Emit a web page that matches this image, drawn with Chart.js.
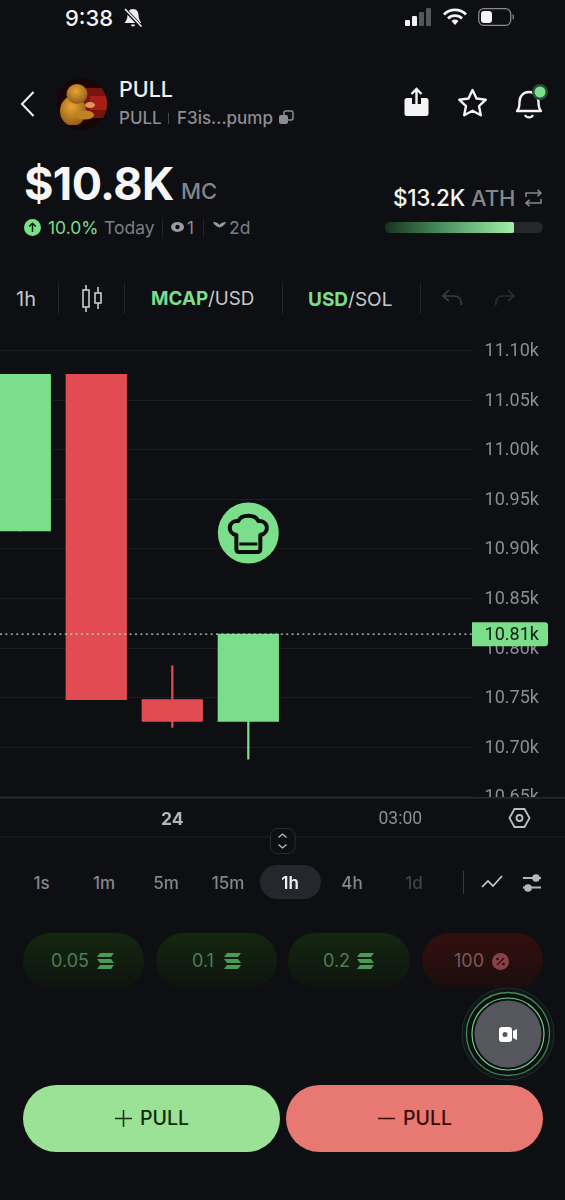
<!DOCTYPE html>
<html><head><meta charset="utf-8">
<script src="https://cdn.jsdelivr.net/npm/chart.js@4"></script>
<style>
html,body{margin:0;padding:0;background:#0e0f13;width:565px;height:1200px;overflow:hidden;font-family:Inter,sans-serif}
#app{position:relative;width:565px;height:1200px;overflow:hidden}
.t{position:absolute;white-space:nowrap;line-height:1;transform:translateY(-50%)}
.c{transform:translate(-50%,-50%)}
svg{position:absolute;overflow:visible}
.sep{position:absolute;width:1px;background:#24252a}
.chip{position:absolute;top:933px;height:55px;border-radius:28px;background:linear-gradient(#14270f,#0e140f)}
#chartBox{position:absolute;left:0;top:340px;width:565px;height:500px}
</style></head><body><div id="app">

<div class="t" style="left:65px;top:18px;font-size:22px;font-weight:500;color:#f4f4f4">9:38</div>
<svg style="left:123px;top:8px" width="20" height="20" viewBox="0 0 20 20"><path d="M10 1c-4 0-5.500 3-5.500 6.500C4.500 11 3 13 1.500 15h17c-1.500-2-3-4-3-7.500C15.500 4 14 1 10 1zM8 16.500h4a2 2 0 0 1-4 0z" fill="#eee"/><path d="M2 1.500 18.500 19" stroke="#0e0f13" stroke-width="3.600"/><path d="M2 1 18.500 18.500" stroke="#eee" stroke-width="1.600"/></svg>
<svg style="left:405px;top:8px" width="28" height="20"><rect x="0" y="12" width="5" height="6" rx="1" fill="#f2f2f2"/><rect x="7" y="8" width="5" height="10" rx="1" fill="#f2f2f2"/><rect x="14" y="4" width="5" height="14" rx="1" fill="#55565a"/><rect x="21" y="0" width="5" height="18" rx="1" fill="#55565a"/></svg>
<svg style="left:443px;top:8px" width="24" height="18" viewBox="0 0 24 18"><path d="M1 6.500a15.500 15.500 0 0 1 22 0M5 10.500a10 10 0 0 1 14 0" fill="none" stroke="#f4f4f4" stroke-width="2.800"/><path d="M8.500 13a5 5 0 0 1 7 0L12 17z" fill="#f4f4f4"/></svg>
<svg style="left:478px;top:8px" width="38" height="20"><rect x=".7" y=".7" width="32" height="16.600" rx="5" fill="none" stroke="#8a8a8c" stroke-width="1.300"/><rect x="3" y="3" width="11" height="12" rx="3" fill="#f4f4f4"/><rect x="34.500" y="6.500" width="1.500" height="5" rx=".7" fill="#77777a"/></svg>

<svg style="left:20px;top:90px" width="16" height="28"><path d="M13.500 2 2 14l11.500 12" fill="none" stroke="#f2f2f2" stroke-width="2"/></svg>
<svg style="left:57px;top:78px" width="50" height="52" viewBox="0 0 50 52"><defs><clipPath id="av"><ellipse cx="25" cy="26" rx="25" ry="26"/></clipPath><radialGradient id="duck" cx=".45" cy=".35" r=".7"><stop offset="0" stop-color="#e8a535"/><stop offset="1" stop-color="#8a5714"/></radialGradient></defs><g clip-path="url(#av)"><rect width="50" height="52" fill="#1a0504"/><rect x="22" y="10" width="28" height="30" fill="#7a140e"/><rect x="33" y="18" width="17" height="14" fill="#a51f14"/><ellipse cx="16" cy="33" rx="13" ry="15" fill="url(#duck)"/><ellipse cx="20" cy="16" rx="10.500" ry="10" fill="url(#duck)"/><ellipse cx="33" cy="27" rx="5" ry="3" fill="#d99a5a"/><ellipse cx="28" cy="37" rx="9" ry="4.500" fill="#c08222"/><rect x="0" y="47" width="50" height="5" fill="#140604"/></g></svg>
<div class="t" style="left:119px;top:90px;font-size:21.500px;font-weight:500;color:#f2f2f2">PULL</div>
<div class="t" style="left:119px;top:118px;font-size:17px;font-weight:500;color:#8c8d93">PULL</div>
<div class="sep" style="left:168px;top:113px;height:11px;background:#45464b"></div>
<div class="t" style="left:177px;top:118px;font-size:17px;font-weight:500;color:#8c8d93">F3is...pump</div>
<svg style="left:279px;top:110px" width="15" height="15"><rect x="5" y="1" width="9" height="9" rx="2" fill="none" stroke="#8c8d93" stroke-width="1.500"/><rect x="0" y="5" width="9" height="9" rx="2" fill="#8c8d93"/></svg>

<svg style="left:404px;top:87px" width="25" height="30"><path d="M3 11h5v6h9v-6h5a2.500 2.500 0 0 1 2.500 2.500v13a2.500 2.500 0 0 1-2.500 2.500H3a2.500 2.500 0 0 1-2.500-2.500v-13A2.500 2.500 0 0 1 3 11z" fill="#f4f4f4"/><path d="M12.500 18V2M7.500 7l5-5 5 5" fill="none" stroke="#f4f4f4" stroke-width="2.400"/></svg>
<svg style="left:457px;top:88px" width="31" height="29" viewBox="0 0 31 29"><path d="M15.500 2l4 8.500 9.300 1.200-6.800 6.400 1.800 9.200-8.300-4.500-8.300 4.500 1.800-9.200-6.800-6.400 9.300-1.200z" fill="none" stroke="#f4f4f4" stroke-width="2.400" stroke-linejoin="round"/></svg>
<svg style="left:515px;top:86px" width="34" height="34"><path d="M2 25c2-2 2.500-4 2.500-9 0-6 4-10 9.500-10s9.500 4 9.500 10c0 5 .5 7 2.500 9z" fill="none" stroke="#f4f4f4" stroke-width="2.400" stroke-linejoin="round"/><path d="M10 29a4.500 4.500 0 0 0 8 0" fill="none" stroke="#f4f4f4" stroke-width="2.200"/><circle cx="25" cy="6" r="8" fill="#2b4a33"/><circle cx="25" cy="6" r="5.500" fill="#7ade8a"/></svg>

<div class="t" style="left:24px;top:183px;font-size:45px;font-weight:700;color:#f6f6f6;letter-spacing:-.6px">$10.8K</div>
<div class="t" style="left:181px;top:191px;font-size:22px;font-weight:500;color:#84858b">MC</div>
<svg style="left:24px;top:219px" width="17" height="17"><circle cx="8.500" cy="8.500" r="8.500" fill="#7ade8a"/><path d="M8.500 13V4.500M5.200 7.500l3.300-3.300 3.300 3.300" fill="none" stroke="#0e2412" stroke-width="1.500"/></svg>
<div class="t" style="left:48px;top:228px;font-size:17.500px;color:#7ade8a">10.0%</div>
<div class="t" style="left:104px;top:228px;font-size:17.500px;color:#7d7e84">Today</div>
<div class="sep" style="left:162px;top:219px;height:18px"></div>
<svg style="left:171px;top:221px" width="13" height="12"><ellipse cx="6.500" cy="6" rx="6.500" ry="5" fill="#9a9ba0"/><circle cx="6.500" cy="6" r="2.200" fill="#0e0f13"/></svg>
<div class="t" style="left:187px;top:228px;font-size:17px;color:#8c8d93">1</div>
<div class="sep" style="left:203px;top:219px;height:18px"></div>
<svg style="left:213px;top:221px" width="13" height="13"><path d="M6.500 12V6.500C5 6 1.500 5 0 1c3 0 5.500 1 6.500 3C7.500 2 10 1 13 1c-1.500 4-5 5-6.500 5.500" fill="#9a9ba0"/></svg>
<div class="t" style="left:229px;top:228px;font-size:17.500px;color:#7d7e84">2d</div>

<div class="t" style="left:393px;top:198px;font-size:22.500px;font-weight:500;color:#f4f4f4;letter-spacing:-.3px">$13.2K</div>
<div class="t" style="left:471px;top:198px;font-size:22px;font-weight:500;color:#85868c">ATH</div>
<svg style="left:525px;top:189px" width="17" height="18" fill="none" stroke="#85868c" stroke-width="1.600"><path d="M1 8V4h15M12.500 .8 16 4l-3.500 3.200M16 10v4H1M4.500 10.800 1 14l3.500 3.200"/></svg>
<div style="position:absolute;left:385px;top:222px;width:158px;height:11px;border-radius:6px;background:#26272b"></div>
<div style="position:absolute;left:385px;top:222px;width:129px;height:11px;border-radius:6px 2px 2px 6px;background:linear-gradient(90deg,#17331f,#4c9160 45%,#9ef0a8)"></div>

<div class="t" style="left:16px;top:299px;font-size:20px;color:#c7c8cc">1h</div>
<div class="sep" style="left:58px;top:283px;height:31px"></div>
<svg style="left:82px;top:284px" width="21" height="30" fill="none" stroke="#c9cace" stroke-width="1.600"><rect x="1" y="6" width="6" height="17"/><path d="M4 1v5M4 23v5"/><rect x="13" y="9" width="6" height="10"/><path d="M16 3v6M16 19v6"/></svg>
<div class="sep" style="left:124px;top:283px;height:31px"></div>
<div class="t" style="left:151px;top:299px;font-size:18.800px;color:#c7c8cc"><b style="color:#7ade8a;font-weight:700">MCAP</b>/USD</div>
<div class="sep" style="left:282px;top:283px;height:31px"></div>
<div class="t" style="left:308px;top:299px;font-size:19px;color:#c7c8cc"><b style="color:#7ade8a;font-weight:700">USD</b>/SOL</div>
<div class="sep" style="left:420px;top:283px;height:31px"></div>
<svg style="left:442px;top:288px" width="21" height="20" fill="none" stroke="#3a3b40" stroke-width="1.700"><path d="M7 2 1 8l6 5M1 8h11c5 0 7.500 3 7.500 9"/></svg>
<svg style="left:495px;top:288px" width="21" height="20" fill="none" stroke="#2c2d32" stroke-width="1.700"><path d="M13 2l6 6-6 5M19 8H8C3 8 .8 11 .8 17"/></svg>

<div id="chartBox"><canvas id="chart" width="565" height="500"></canvas></div>

<svg style="left:508px;top:806px" width="24" height="24" fill="none" stroke="#bcbdc2" stroke-width="1.800"><path d="M1.500 12 6.500 3H16.500L21.500 12 16.500 21H6.500z"/><circle cx="11.500" cy="12" r="3"/></svg>
<svg style="left:270px;top:828px" width="26" height="26" fill="#0e0f13" stroke="#2c2d32"><rect x=".5" y=".5" width="24.500" height="25" rx="7"/><path d="M8.500 9.500l4-3.500 4 3.500M8.500 16.500l4 3.500 4-3.500" fill="none" stroke="#bcbdc2" stroke-width="1.300"/></svg>

<div style="position:absolute;left:260px;top:865px;width:61px;height:34px;border-radius:17px;background:#26272c"></div>
<div class="t c" style="left:41.500px;top:883px;font-size:17px;font-weight:500;color:#85868c">1s</div>
<div class="t c" style="left:104px;top:883px;font-size:17px;font-weight:500;color:#85868c">1m</div>
<div class="t c" style="left:166px;top:883px;font-size:17px;font-weight:500;color:#85868c">5m</div>
<div class="t c" style="left:228px;top:883px;font-size:17px;font-weight:500;color:#85868c">15m</div>
<div class="t c" style="left:290px;top:883px;font-size:17px;font-weight:600;color:#eeeeee">1h</div>
<div class="t c" style="left:352px;top:883px;font-size:17px;font-weight:500;color:#85868c">4h</div>
<div class="t c" style="left:414px;top:883px;font-size:17px;font-weight:500;color:#3f4045">1d</div>
<div class="sep" style="left:463px;top:871px;height:23px;background:#3a3b40"></div>
<svg style="left:481px;top:872px" width="22" height="20" fill="none" stroke="#c9cace" stroke-width="1.700"><path d="M1 15l6-6 5 5 9-10"/></svg>
<svg style="left:522px;top:873px" width="20" height="20"><path d="M1 5h18M1 14.500h18" stroke="#b5b6bb" stroke-width="1.800"/><circle cx="14" cy="5" r="3.800" fill="#b5b6bb"/><circle cx="6" cy="15" r="3.800" fill="#b5b6bb"/></svg>

<div class="chip" style="left:23px;width:121px"></div>
<div class="chip" style="left:156px;width:121px"></div>
<div class="chip" style="left:288px;width:122px"></div>
<div class="chip" style="left:422px;width:121px;background:linear-gradient(#33100d,#1b0d0d)"></div>
<div class="t" style="left:51px;top:961px;font-size:18px;color:#4d7e50">0.05</div>
<div class="t" style="left:192px;top:961px;font-size:18px;color:#4d7e50">0.1</div>
<div class="t" style="left:323px;top:961px;font-size:18px;color:#4d7e50">0.2</div>
<div class="t" style="left:454px;top:961px;font-size:18px;color:#7c5a58">100</div>
<svg style="left:97px;top:953px" width="17" height="16"><path d="M3 0H17L14 4H0zM0 6H14L17 10H3zM3 12H17L14 16H0z" fill="#4c9a58"/></svg>
<svg style="left:224px;top:953px" width="17" height="16"><path d="M3 0H17L14 4H0zM0 6H14L17 10H3zM3 12H17L14 16H0z" fill="#4c9a58"/></svg>
<svg style="left:357px;top:953px" width="17" height="16"><path d="M3 0H17L14 4H0zM0 6H14L17 10H3zM3 12H17L14 16H0z" fill="#4c9a58"/></svg>
<svg style="left:492px;top:953px" width="17" height="17"><circle cx="8.500" cy="8.500" r="8.500" fill="#8b4046"/><path d="M5 12l7-7" stroke="#1b0d0d" stroke-width="1.300"/><circle cx="5.500" cy="6" r="1.300" fill="#1b0d0d"/><circle cx="11.500" cy="11" r="1.300" fill="#1b0d0d"/></svg>

<svg style="left:458px;top:984px" width="100" height="100"><circle cx="50" cy="50" r="46" fill="#10151a" stroke="#1f2e27"/><circle cx="50" cy="50" r="41.500" fill="#0e0f13" stroke="#3f8b50" stroke-width="1.300"/><circle cx="50" cy="50" r="36" fill="#0e0f13" stroke="#6fcf80" stroke-width="1.200"/><circle cx="50" cy="50" r="33.500" fill="#55565e"/><rect x="41" y="43" width="13" height="15" rx="3" fill="#fff"/><circle cx="47" cy="50.500" r="2.500" fill="#55565e"/><path d="M55 47l4-2v11l-4-2z" fill="#fff"/></svg>

<div style="position:absolute;left:23px;top:1085px;width:257px;height:67px;border-radius:34px;background:#9be296"></div>
<div style="position:absolute;left:285.500px;top:1085px;width:257.500px;height:67px;border-radius:34px;background:#e87872"></div>
<svg style="left:115px;top:1110px" width="17" height="17"><path d="M8.500 0v17M0 8.500h17" stroke="#12300f" stroke-width="1.500"/></svg>
<div class="t" style="left:140px;top:1119px;font-size:19.500px;font-weight:500;color:#0f2a0c">PULL</div>
<svg style="left:378px;top:1110px" width="17" height="17"><path d="M0 8.500h17" stroke="#3e0b0a" stroke-width="1.500"/></svg>
<div class="t" style="left:403px;top:1119px;font-size:19.500px;font-weight:500;color:#3a0a09">PULL</div>
</div>

<script>
// Candle data (hour offset from midnight of the 24th; market cap in USD)
const candleHours = [-2, -1, 0, 1];
const opens  = [10918, 11076, 10748, 10726];
const highs  = [11076, 11076, 10782, 10814];
const lows   = [10918, 10748, 10720, 10688];
const closes = [11076, 10748, 10726, 10814];
const currentPrice = 10814;
const currentLabel = '10.81k';
const yTicks = [10650,10700,10750,10800,10850,10900,10950,11000,11050,11100];
const xTicks = [0, 3];
const xTickLabels = ['24', '03:00'];
const markerHour = [1];
const markerValue = [10916];
const GREEN = '#7ade8a', RED = '#e34b52';
const xMin = -2.267, xMax = 3.943;
const barColors = opens.map((o,i)=> closes[i]>=o ? GREEN : RED);

const candlePlugin = {
  id:'overlay',
  beforeDraw(c){
    // nudge right-axis labels down to sit on their gridlines
    const s=c.scales.y;
    if(!s._nudged){
      const orig=s.drawLabels.bind(s);
      s.drawLabels=function(a){c.ctx.save();c.ctx.translate(0,1);orig(a);c.ctx.restore();};
      s._nudged=true;
    }
  },
  afterDatasetsDraw(c){
    const g=c.ctx, y=c.scales.y, a=c.chartArea;
    // cover under the plot so the lowest tick is clipped by the axis
    g.save();
    g.fillStyle='#0e0f13';
    g.fillRect(0,a.bottom+1,c.width,c.height-a.bottom);
    g.fillStyle='#2a2b30';
    g.fillRect(0,a.bottom,c.width,1.5);
    g.fillStyle='#1c1d22';
    g.fillRect(0,496.5,c.width,1);
    // current price tag
    const py=y.getPixelForValue(currentPrice);
    g.fillStyle=GREEN;
    g.beginPath();
    g.roundRect(a.right,py-12,76,24,[0,3,3,0]);
    g.fill();
    g.fillStyle='#0f1a10';
    g.font='18px Roboto';
    g.textAlign='left'; g.textBaseline='middle';
    g.fillText(currentLabel,a.right+12.6,py+1);
    // chef hat glyph on the marker
    const pt=c.getDatasetMeta(3).data[0];
    g.translate(pt.x,pt.y);
    g.lineWidth=4; g.strokeStyle='#0b0d0c'; g.lineJoin='round';
    g.beginPath();
    g.moveTo(-12,2);
    g.bezierCurveTo(-22,0,-20,-13,-10,-12);
    g.bezierCurveTo(-7,-19,7,-19,10,-12);
    g.bezierCurveTo(20,-13,22,0,12,2);
    g.lineTo(12,16); g.quadraticCurveTo(12,19,9,19);
    g.lineTo(-9,19); g.quadraticCurveTo(-12,19,-12,16);
    g.closePath(); g.stroke();
    g.beginPath(); g.moveTo(-9,11); g.lineTo(9,11); g.lineWidth=3; g.stroke();
    g.restore();
  }
};

new Chart(document.getElementById('chart'),{
  type:'bar',
  plugins:[candlePlugin],
  data:{datasets:[
    {label:'body',order:2,grouped:false,barThickness:60.6,
     data:candleHours.map((h,i)=>({x:h,y:[opens[i],closes[i]]})),
     backgroundColor:barColors,borderWidth:0},
    {label:'wick',order:3,grouped:false,barThickness:1.6,
     data:candleHours.map((h,i)=>({x:h,y:[lows[i],highs[i]]})),
     backgroundColor:barColors,borderWidth:0},
    {label:'price',type:'line',order:1,
     data:[{x:xMin,y:currentPrice},{x:xMax,y:currentPrice}],
     borderColor:'#a4e8ad',borderWidth:1.3,borderDash:[2,3.4],pointRadius:0,fill:false},
    {label:'marker',type:'scatter',order:0,
     data:markerHour.map((h,i)=>({x:h,y:markerValue[i]})),
     pointRadius:30.5,pointStyle:'circle',backgroundColor:GREEN,borderWidth:0}
  ]},
  options:{
    responsive:false,animation:false,events:[],
    layout:{autoPadding:false,padding:{top:0,left:0,right:0,bottom:0}},
    plugins:{legend:{display:false},tooltip:{enabled:false}},
    scales:{
      x:{type:'linear',min:xMin,max:xMax,offset:false,
        afterBuildTicks(s){s.ticks=xTicks.map(v=>({value:v}));},
        afterFit(s){s.height=43;s.paddingLeft=0;s.paddingRight=0;},
        grid:{display:false},border:{display:false},
        ticks:{z:1,padding:4,maxRotation:0,autoSkip:false,
          font:ctx=>({family:ctx.tick&&ctx.tick.value===0?'Inter':'Roboto',size:17.5,weight:ctx.tick&&ctx.tick.value===0?'700':'400'}),
          color:ctx=>ctx.tick&&ctx.tick.value===0?'#b5b6bb':'#8c8d93',
          callback(v){const i=xTicks.indexOf(v);return i<0?'':xTickLabels[i];}}
      },
      y:{type:'linear',position:'right',min:10649.8,max:11110.6,
        afterBuildTicks(s){s.ticks=yTicks.map(v=>({value:v}));},
        afterFit(s){s.width=93;s.paddingTop=0;s.paddingBottom=0;},
        grid:{color:'#1c1d21',lineWidth:1,drawTicks:false},border:{display:false},
        ticks:{padding:12.6,crossAlign:'near',autoSkip:false,
          font:{family:'Roboto',size:18},color:'#8c8d93',
          callback(v){return (v/1000).toFixed(2)+'k';}}
      }
    }
  }
});
</script>
</body></html>
